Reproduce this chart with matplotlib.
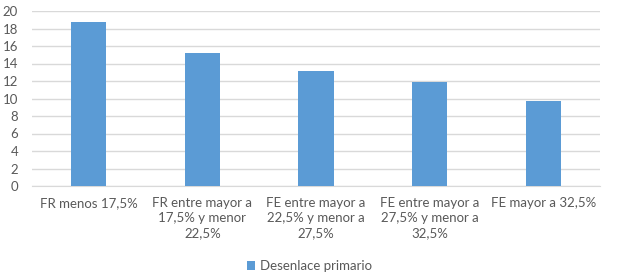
import matplotlib
matplotlib.use("Agg")
import matplotlib.pyplot as plt

categories = ["FR menos 17,5%",
              "FR entre mayor a\n17,5% y menor\n22,5%",
              "FE entre mayor a\n22,5% y menor a\n27,5%",
              "FE entre mayor a\n27,5% y menor a\n32,5%",
              "FE mayor a 32,5%"]
values = [18.7, 15.2, 13.2, 11.9, 9.7]
series_name = "Desenlace primario"

plt.rcParams['font.family'] = ['Lato', 'DejaVu Sans']
txt = '#595959'

fig = plt.figure(figsize=(6.19, 2.76), dpi=100)
ax = fig.add_axes([32/619, 1-186/276, (600-32)/619, (186-11)/276])
x = list(range(len(categories)))
ax.bar(x, values, width=0.31, color='#5b9bd5', label=series_name, zorder=3)
ax.set_xlim(-0.5, len(categories)-0.5)
ax.set_ylim(0, 20)
ax.set_yticks(range(0, 21, 2))
ax.yaxis.grid(True, color='#d9d9d9', linewidth=1, zorder=0)
for s in ['top', 'right', 'left']:
    ax.spines[s].set_visible(False)
ax.spines['bottom'].set_color('#d9d9d9')
ax.tick_params(axis='both', length=0, colors=txt, labelsize=9.5)
ax.tick_params(axis='y', pad=10)
ax.set_xticks(x)
ax.set_xticklabels(categories, fontsize=9.5, color=txt, linespacing=1.3)
ax.tick_params(axis='x', pad=8)
leg = fig.legend(loc='center', bbox_to_anchor=(0.5, 1-266/276), frameon=False,
                 fontsize=9.5, handlelength=0.6, handleheight=0.6, handletextpad=0.4)
for t in leg.get_texts():
    t.set_color(txt)
fig.savefig('out.png', dpi=100)
